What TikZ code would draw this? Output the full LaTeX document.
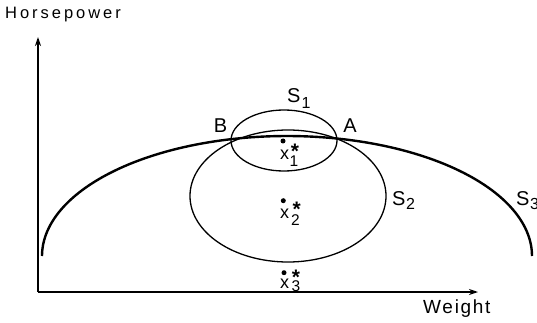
\documentclass[tikz,border=0pt]{standalone}
\usepackage{fontspec}
\setmainfont{Liberation Sans}
\newfontfamily\hpfont{Liberation Sans}[LetterSpace=18.0]
\newfontfamily\wtfont{Liberation Sans}[LetterSpace=9.0]
\usetikzlibrary{arrows.meta}
\begin{document}
\begin{tikzpicture}[x=1pt,y=-1pt,
  lbl/.style={inner sep=0pt, font=\fontsize{20}{20}\selectfont},
  xl/.style={inner sep=0pt, anchor=base, font=\fontsize{18}{18}\selectfont},
  sub/.style={inner sep=0pt, anchor=base, font=\fontsize{15.5}{15.5}\selectfont},
  star/.style={inner sep=0pt, anchor=base, font=\bfseries\fontsize{21}{21}\selectfont},
  pt/.style={circle, fill=black, inner sep=0pt, minimum size=5pt},
  axis/.style={line width=1.4pt, -{Stealth[length=9pt,width=6pt]}},
  thin curve/.style={line width=1.3pt},
  thick curve/.style={line width=2.4pt}]
\useasboundingbox (0,0) rectangle (537,323);
% axes
\coordinate (O) at (38,292);
\coordinate (ytop) at (38,37);
\coordinate (xend) at (478,292);
\draw[axis] (O) -- (ytop);
\draw[axis] (O) -- (xend);
\node[inner sep=0pt, anchor=base west, font=\hpfont\fontsize{16.5}{16.5}\selectfont] (hp) at (5,19) {Horsepower};
\node[inner sep=0pt, anchor=base west, font=\wtfont\fontsize{19}{19}\selectfont] (wt) at (423,313) {Weight};
% S3
\draw[thick curve] plot[domain=180:0, samples=120] ({287+245*cos(\x)}, {256-120*sin(\x)});
% S2
\draw[thin curve] (288,196) ellipse [x radius=98pt, y radius=66pt];
% S1
\draw[thin curve] (284,140.5) ellipse [x radius=53pt, y radius=30.5pt];
% labels
\node[lbl, anchor=base] (B) at (220.5,133) {B};
\node[lbl, anchor=base] (A) at (350,133) {A};
\node[lbl, anchor=base west] (S1) at (287,103) {S\kern1pt\raisebox{-6pt}{\fontsize{16}{16}\selectfont 1}};
\node[lbl, anchor=base west] (S2) at (392,205) {S\kern0.5pt\raisebox{-4pt}{\fontsize{16}{16}\selectfont 2}};
\node[lbl, anchor=base west] (S3) at (516,205) {S\kern0.5pt\raisebox{-4pt}{\fontsize{16}{16}\selectfont 3}};
% points
\node[pt] (d1) at (283,141) {};
\node[star] (st1) at (295,158.5) {*};
\node[xl] (x1) at (284.5,160) {x};
\node[sub] (n1) at (294,166) {1};
\node[pt] (d2) at (283.3,200.7) {};
\node[star] (st2) at (296.7,216.8) {*};
\node[xl] (x2) at (284.5,218) {x};
\node[sub] (n2) at (295.5,225) {2};
\node[pt] (d3) at (284,272.7) {};
\node[star] (st3) at (296,284.5) {*};
\node[xl] (x3) at (284.5,288) {x};
\node[sub] (n3) at (296,291) {3};
\end{tikzpicture}
\end{document}
